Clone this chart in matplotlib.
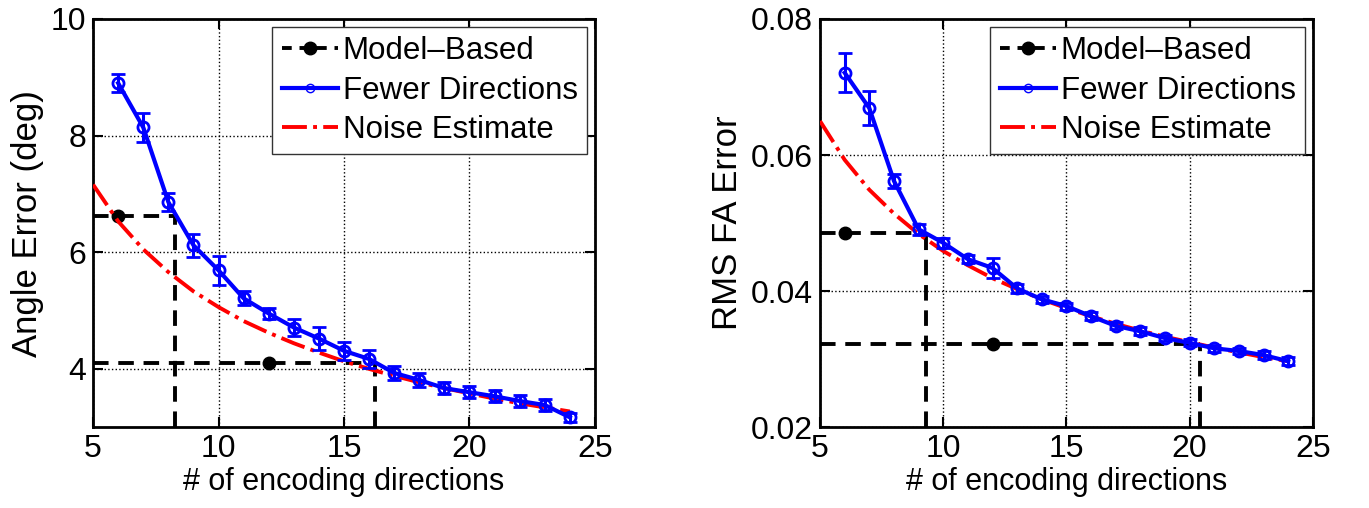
import numpy as np
import matplotlib
matplotlib.use("Agg")
import matplotlib.pyplot as plt
from matplotlib.lines import Line2D

plt.rcParams['font.family'] = ['Liberation Sans', 'DejaVu Sans']

# dados
n_dirs = [6, 7, 8, 9, 10, 11, 12, 13, 14, 15, 16, 17, 18, 19, 20, 21, 22, 23, 24]
noise_x = [5, 6, 7, 8, 9, 10, 11, 12, 13, 14, 15, 16, 17, 18, 19, 20, 21, 22, 23, 24]

angle_fewer = [8.9, 8.14, 6.86, 6.12, 5.69, 5.21, 4.95, 4.71, 4.52, 4.31, 4.17,
               3.93, 3.81, 3.67, 3.60, 3.53, 3.45, 3.38, 3.17]
angle_err = [0.15, 0.25, 0.15, 0.2, 0.25, 0.12, 0.1, 0.15, 0.2, 0.15, 0.15,
             0.12, 0.12, 0.1, 0.1, 0.1, 0.1, 0.1, 0.08]
angle_noise = [7.16, 6.53, 6.05, 5.66, 5.33, 5.06, 4.82, 4.62, 4.44, 4.28, 4.13,
               4.00, 3.88, 3.77, 3.67, 3.58, 3.49, 3.41, 3.34, 3.27]
angle_model_x = [6, 12]
angle_model = [6.62, 4.10]
angle_cross = [8.27, 16.23]   # onde a curva atinge o erro do modelo

fa_fewer = [0.0721, 0.0669, 0.0562, 0.0491, 0.0471, 0.0447, 0.0434, 0.0404, 0.0388,
            0.0378, 0.0363, 0.0349, 0.0341, 0.0331, 0.0324, 0.0316, 0.0312, 0.0306, 0.0297]
fa_err = [0.0029, 0.0025, 0.001, 0.0008, 0.0007, 0.0006, 0.0015, 0.0006, 0.0005,
          0.0005, 0.0006, 0.0005, 0.0006, 0.0005, 0.0005, 0.0005, 0.0005, 0.0006, 0.0006]
fa_noise = [0.0650, 0.0593, 0.0549, 0.0514, 0.0484, 0.0459, 0.0438, 0.0419, 0.0403, 0.0388,
            0.0375, 0.0363, 0.0352, 0.0342, 0.0333, 0.0325, 0.0317, 0.0310, 0.0303, 0.0297]
fa_model_x = [6, 12]
fa_model = [0.0486, 0.0322]
fa_cross = [9.3, 20.4]

fig = plt.figure(figsize=(13.69, 5.08), dpi=100)
ax1 = fig.add_axes([0.068, 0.159, 0.3666, 0.8036])
ax2 = fig.add_axes([0.599, 0.159, 0.360, 0.8036])

def painel(ax, fewer, err, noise, mx, my, cross, ylim, yticks, ylabel):
    # linhas tracejadas do modelo
    for yv, xc in zip(my, cross):
        ax.plot([5, xc], [yv, yv], '--', color='black', lw=2.8, dashes=(4, 2.5), zorder=2)
        ax.plot([xc, xc], [ylim[0], yv], '--', color='black', lw=2.8, dashes=(4, 2.5), zorder=2)
    ax.plot(mx, my, 'o', color='black', ms=9, zorder=3)
    ax.plot(noise_x, noise, '-.', color='red', lw=2.8, zorder=4)
    ax.errorbar(n_dirs, fewer, yerr=err, color='#0000ff', lw=3, marker='o', ms=8,
                mfc='none', mec='#0000ff', mew=2, capsize=5, capthick=2.2, elinewidth=2.2, zorder=5)
    ax.set_xlim(5, 25)
    ax.set_ylim(*ylim)
    ax.set_xticks([5, 10, 15, 20, 25])
    ax.set_yticks(yticks)
    ax.grid(True, linestyle=':', color='black', lw=1.0)
    ax.tick_params(direction='in', top=True, right=True, labelsize=23, length=7, width=1.5, pad=5)
    for s in ax.spines.values():
        s.set_linewidth(2)
    ax.set_xlabel('# of encoding directions', fontsize=22, labelpad=2)
    ax.set_ylabel(ylabel, fontsize=25, labelpad=5)
    handles = [Line2D([], [], ls='--', color='black', lw=2.8, marker='o', ms=9, dashes=(2.5, 2)),
               Line2D([], [], ls='-', color='#0000ff', lw=3, marker='o', ms=6, mfc='none', mew=1),
               Line2D([], [], ls='-.', color='red', lw=2.8)]
    leg = ax.legend(handles, ['Model\u2013Based', 'Fewer Directions', 'Noise Estimate'],
                    loc='upper right', fontsize=22.5, handlelength=1.8, handletextpad=0.15,
                    borderpad=0.3, labelspacing=0.3, borderaxespad=0.25,
                    fancybox=False, framealpha=1, edgecolor='#333333')
    leg.get_frame().set_linewidth(1.0)

painel(ax1, angle_fewer, angle_err, angle_noise, angle_model_x, angle_model, angle_cross,
       (3, 10), [4, 6, 8, 10], 'Angle Error (deg)')
painel(ax2, fa_fewer, fa_err, fa_noise, fa_model_x, fa_model, fa_cross,
       (0.02, 0.08), [0.02, 0.04, 0.06, 0.08], 'RMS FA Error')

fig.savefig('out.png', dpi=100)
